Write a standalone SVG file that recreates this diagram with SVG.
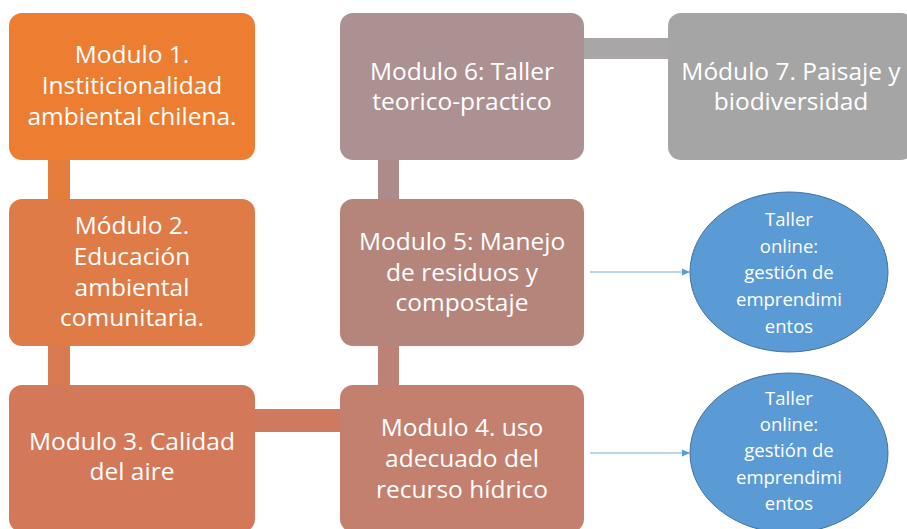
<svg xmlns="http://www.w3.org/2000/svg" width="907" height="529" viewBox="0 0 907 529">
<defs>
<style>
.t{font-family:"Open Sans","Liberation Sans",sans-serif;font-size:24.5px;fill:#fff;text-anchor:middle}
.s{font-family:"Open Sans","Liberation Sans",sans-serif;font-size:18.5px;fill:#fff;text-anchor:middle}
.ar{stroke:#7aa9d8;stroke-width:1.2;fill:none}
</style>
<marker id="ah" markerWidth="8" markerHeight="8" refX="7" refY="4" orient="auto" markerUnits="userSpaceOnUse">
<path d="M0,0.5 L8,4 L0,7.5 Z" fill="#5b9bd5"/>
</marker>
</defs>
<rect width="907" height="529" fill="#fff"/>
<g id="connectors">
<rect x="48" y="158" width="22" height="43" fill="#e57e3a"/>
<rect x="48" y="344" width="22" height="43" fill="#d97b50"/>
<rect x="253" y="409" width="89" height="23" fill="#cf7a60"/>
<rect x="378" y="344" width="21" height="43" fill="#bd8277"/>
<rect x="378" y="158" width="21" height="43" fill="#ae8b8b"/>
<rect x="582" y="38" width="88" height="21" fill="#a8a6a6"/>
<line class="ar" x1="590" y1="272" x2="689" y2="272" marker-end="url(#ah)"/>
<line class="ar" x1="590" y1="453" x2="689" y2="453" marker-end="url(#ah)"/>
</g>
<g id="m1">
<rect x="9" y="13" width="246" height="147" rx="13" fill="#ed7d31"/>
<text class="t" x="132" y="63">Modulo 1.</text>
<text class="t" x="132" y="94">Institicionalidad</text>
<text class="t" x="132" y="125">ambiental chilena.</text>
</g>
<g id="m2">
<rect x="9" y="199" width="246" height="147" rx="13" fill="#df7b47"/>
<text class="t" x="132" y="234">Módulo 2.</text>
<text class="t" x="132" y="265">Educación</text>
<text class="t" x="132" y="296">ambiental</text>
<text class="t" x="132" y="326">comunitaria.</text>
</g>
<g id="m3">
<rect x="9" y="385" width="246" height="147" rx="13" fill="#d3795a"/>
<text class="t" x="132" y="450">Modulo 3. Calidad</text>
<text class="t" x="132" y="480">del aire</text>
</g>
<g id="m4">
<rect x="340" y="385" width="244" height="147" rx="13" fill="#c4806e"/>
<text class="t" x="462" y="436">Modulo 4. uso</text>
<text class="t" x="462" y="467">adecuado del</text>
<text class="t" x="462" y="498">recurso hídrico</text>
</g>
<g id="m5">
<rect x="340" y="199" width="244" height="147" rx="13" fill="#b5857c"/>
<text class="t" x="462" y="250">Modulo 5: Manejo</text>
<text class="t" x="462" y="281">de residuos y</text>
<text class="t" x="462" y="311">compostaje</text>
</g>
<g id="m6">
<rect x="340" y="13" width="244" height="147" rx="13" fill="#ac9192"/>
<text class="t" x="462" y="80">Modulo 6: Taller</text>
<text class="t" x="462" y="110">teorico-practico</text>
</g>
<g id="m7">
<rect x="668" y="13" width="246" height="147" rx="13" fill="#a5a5a5"/>
<text class="t" x="791" y="80">Módulo 7. Paisaje y</text>
<text class="t" x="791" y="110">biodiversidad</text>
</g>
<g id="e1">
<ellipse cx="789" cy="272" rx="99" ry="80" fill="#5b9bd5" stroke="#41719c" stroke-width="1"/>
<text class="s" x="789" y="226">Taller</text>
<text class="s" x="789" y="253">online:</text>
<text class="s" x="789" y="279">gestión de</text>
<text class="s" x="789" y="306">emprendimi</text>
<text class="s" x="789" y="333">entos</text>
</g>
<g id="e2">
<ellipse cx="789" cy="453" rx="99" ry="80" fill="#5b9bd5" stroke="#41719c" stroke-width="1"/>
<text class="s" x="789" y="405">Taller</text>
<text class="s" x="789" y="431">online:</text>
<text class="s" x="789" y="457">gestión de</text>
<text class="s" x="789" y="484">emprendimi</text>
<text class="s" x="789" y="510">entos</text>
</g>
</svg>
